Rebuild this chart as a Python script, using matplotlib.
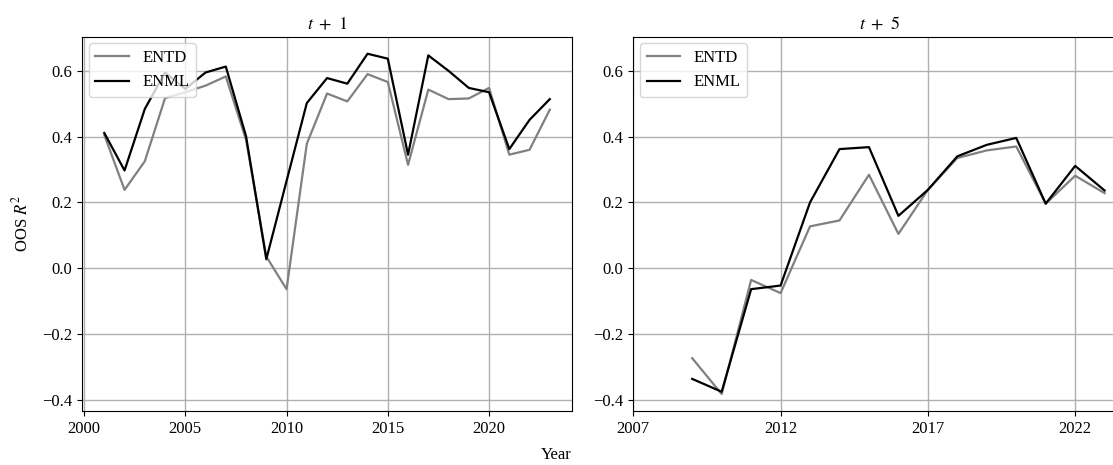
import matplotlib
matplotlib.use("Agg")
import matplotlib.pyplot as plt

plt.rcParams["font.family"] = ["Liberation Serif", "DejaVu Serif"]
plt.rcParams["mathtext.fontset"] = "stix"
plt.rcParams["font.size"] = 12

# OOS R^2, horizon t+1
years_1 = list(range(2001, 2024))
entd_1 = [0.405, 0.238, 0.325, 0.517, 0.535, 0.555, 0.583, 0.390, 0.035, -0.064,
          0.378, 0.531, 0.507, 0.590, 0.566, 0.314, 0.543, 0.514, 0.516, 0.548,
          0.345, 0.360, 0.482]
enml_1 = [0.411, 0.297, 0.484, 0.595, 0.545, 0.595, 0.613, 0.401, 0.027, 0.265,
          0.502, 0.578, 0.561, 0.652, 0.637, 0.345, 0.647, 0.600, 0.548, 0.535,
          0.362, 0.451, 0.514]

# OOS R^2, horizon t+5
years_5 = list(range(2009, 2024))
entd_5 = [-0.274, -0.383, -0.036, -0.076, 0.127, 0.145, 0.284, 0.104, 0.238,
          0.335, 0.358, 0.370, 0.196, 0.281, 0.228]
enml_5 = [-0.337, -0.376, -0.064, -0.053, 0.200, 0.362, 0.368, 0.159, 0.238,
          0.340, 0.375, 0.396, 0.196, 0.311, 0.236]

fig = plt.figure(figsize=(11.13, 4.65), dpi=100)
ax1 = fig.add_axes([0.0737, 0.116, 0.4403, 0.805])
ax2 = fig.add_axes([0.569, 0.116, 0.442, 0.805], sharey=ax1)

panels = [
    (ax1, years_1, entd_1, enml_1, r"$t\ +\ 1$", [2000, 2005, 2010, 2015, 2020], None),
    (ax2, years_5, entd_5, enml_5, r"$t\ +\ 5$", [2007, 2012, 2017, 2022], (2007, 2023.7)),
]

for ax, yrs, entd, enml, title, ticks, xlim in panels:
    ax.plot(yrs, entd, color="gray", linewidth=1.6, label="ENTD")
    ax.plot(yrs, enml, color="black", linewidth=1.6, label="ENML")
    ax.set_title(title, fontsize=13, pad=5)
    ax.set_xticks(ticks)
    if xlim is not None:
        ax.set_xlim(*xlim)
    ax.grid(True, color="#b0b0b0", linewidth=1.0)
    ax.set_axisbelow(True)
    ax.legend(loc="upper left", fontsize=12, borderaxespad=0.4)

ax1.set_yticks([-0.4, -0.2, 0.0, 0.2, 0.4, 0.6])
ax1.tick_params(labelsize=12)
ax2.tick_params(labelleft=True, labelsize=12)
ax1.set_ylabel(r"OOS $R^2$", labelpad=8)
fig.text(0.5, 0.005, "Year", ha="center", va="bottom", fontsize=12)

fig.savefig("out.png", dpi=100)
